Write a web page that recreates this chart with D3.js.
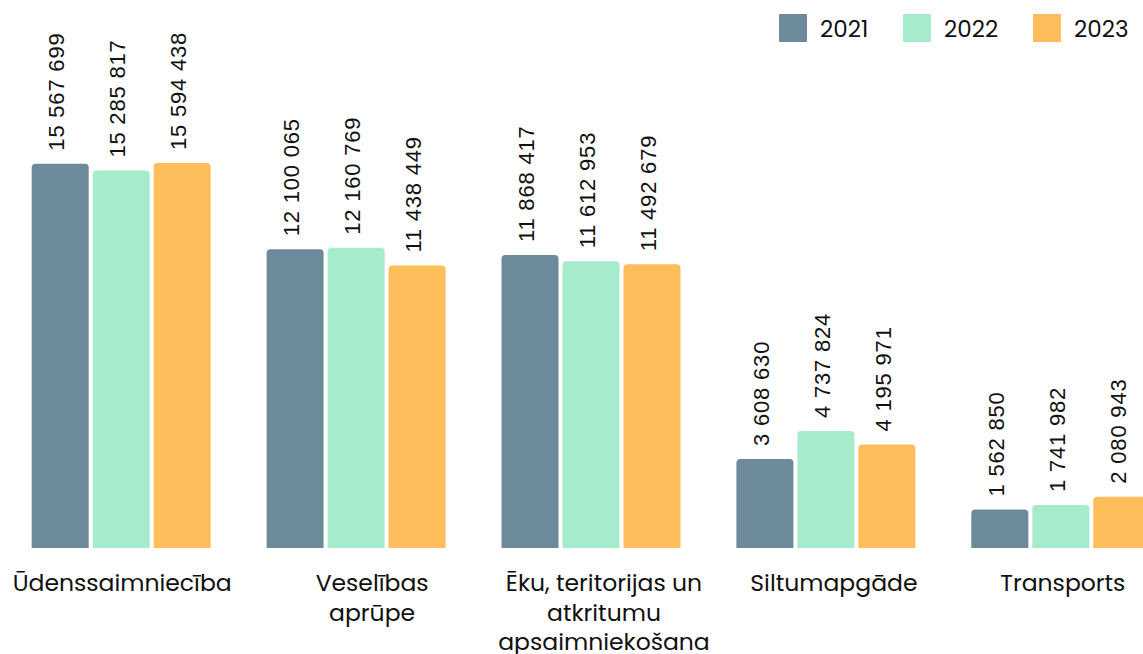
<!DOCTYPE html>
<html>
<head>
<meta charset="utf-8">
<script src="https://cdn.jsdelivr.net/npm/d3@7"></script>
<style>
  body { margin: 0; background: #fff; }
  svg { display: block; }
</style>
</head>
<body>
<svg id="chart"></svg>
<script>
const categories = ['Ūdenssaimniecība', 'Veselības aprūpe', 'Ēku, teritorijas un atkritumu apsaimniekošana', 'Siltumapgāde', 'Transports'];
// how each category label is broken into lines
const categoryLines = [
  ['Ūdenssaimniecība'],
  ['Veselības', 'aprūpe'],
  ['Ēku, teritorijas un', 'atkritumu', 'apsaimniekošana'],
  ['Siltumapgāde'],
  ['Transports']
];
const years = ['2021', '2022', '2023'];
const values2021 = [15567699, 12100065, 11868417, 3608630, 1562850];
const values2022 = [15285817, 12160769, 11612953, 4737824, 1741982];
const values2023 = [15594438, 11438449, 11492679, 4195971, 2080943];
const colors = ['#6d8a9b', '#a6ebcb', '#febd5b'];

const W = 1143, H = 654;
const svg = d3.select('#chart').attr('width', W).attr('height', H);

const series = [values2021, values2022, values2023];
const fmt = v => d3.format(',')(v).replace(/,/g, ' ');

const x0 = d3.scaleBand()
  .domain(categories)
  .range([3.5, 1178.5])
  .paddingInner(0.238)
  .paddingOuter(0.12);

const x1 = d3.scaleBand()
  .domain(years)
  .range([0, x0.bandwidth()])
  .paddingInner(0.065);

const y = d3.scaleLinear()
  .domain([0, 15594438])
  .range([548, 163]);

// the wrapped labels sit a little off the group centres in the original
const labelDx = [1, 16, 13, 8, 2];

const groups = svg.selectAll('.grp')
  .data(categories)
  .enter()
  .append('g')
  .attr('class', 'grp')
  .attr('transform', d => `translate(${x0(d)},0)`);

const r = 4;
function topRounded(x, yTop, w, base) {
  const h = base - yTop;
  const rr = Math.min(r, h / 2);
  return `M${x},${base}V${yTop + rr}Q${x},${yTop} ${x + rr},${yTop}H${x + w - rr}Q${x + w},${yTop} ${x + w},${yTop + rr}V${base}Z`;
}

groups.each(function(cat, ci) {
  const g = d3.select(this);
  years.forEach((yr, si) => {
    const v = series[si][ci];
    const bx = x1(yr);
    g.append('path')
      .attr('d', topRounded(bx, y(v), x1.bandwidth(), y(0)))
      .attr('fill', colors[si]);
    const cx = bx + x1.bandwidth() / 2;
    g.append('text')
      .attr('transform', `translate(${cx + 4},${y(v) - 13}) rotate(-90)`)
      .attr('text-anchor', 'start')
      .attr('font-family', 'Liberation Sans, Arial, sans-serif')
      .attr('font-size', 22)
      .attr('letter-spacing', 0.8)
      .attr('fill', '#111')
      .text(fmt(v));
  });
});

// category labels
svg.selectAll('.cat')
  .data(categories)
  .enter()
  .append('text')
  .attr('class', 'cat')
  .attr('y', 591)
  .attr('text-anchor', 'middle')
  .attr('font-family', 'Poppins, Lato, sans-serif')
  .attr('font-size', 23.5)
  .attr('fill', '#111')
  .each(function(d, i) {
    const t = d3.select(this);
    const cx = x0(d) + x0.bandwidth() / 2 + labelDx[i];
    categoryLines[i].forEach((ln, li) => {
      t.append('tspan')
        .attr('x', cx)
        .attr('dy', li === 0 ? 0 : 29.5)
        .text(ln);
    });
  });

// legend
const legend = svg.append('g').attr('transform', 'translate(779,14)');
const lx = [0, 124, 254];
years.forEach((yr, i) => {
  const item = legend.append('g').attr('transform', `translate(${lx[i]},0)`);
  item.append('rect')
    .attr('width', 28).attr('height', 28).attr('rx', 1)
    .attr('fill', colors[i]);
  item.append('text')
    .attr('x', 41).attr('y', 22.5)
    .attr('font-family', 'Poppins, Lato, sans-serif')
    .attr('font-size', 23)
    .attr('fill', '#111')
    .text(yr);
});
</script>
</body>
</html>
